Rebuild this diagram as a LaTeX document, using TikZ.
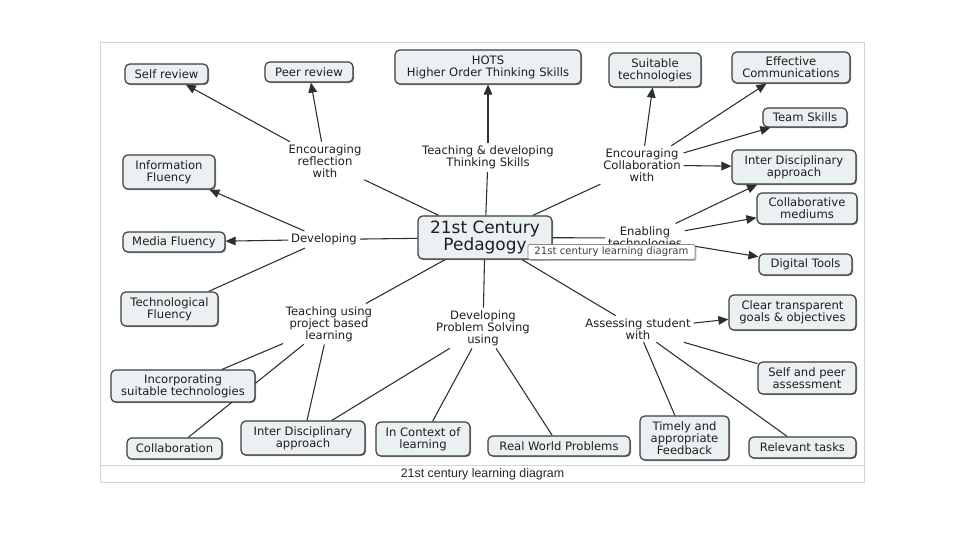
\documentclass[tikz,border=0pt]{standalone}
\usepackage{fontspec}
\setmainfont{DejaVu Sans}
\newfontfamily\capfont{Liberation Sans}
\usetikzlibrary{arrows.meta,shadows,backgrounds}
\definecolor{boxfill}{HTML}{EBF0F2}
\definecolor{boxline}{HTML}{3C3C3C}
\definecolor{txt}{HTML}{1E1E1E}
\definecolor{framec}{HTML}{D4D4D4}
\definecolor{linkc}{HTML}{2E2E2E}
\begin{document}
\begin{tikzpicture}[x=0.75pt,y=-0.75pt,
  box/.style={draw=boxline, line width=0.9pt, rounded corners=3.5pt, fill=boxfill,
    align=center, inner sep=1pt, font=\fontsize{8.7}{8.9}\selectfont, text=txt,
    drop shadow={shadow xshift=0.8pt, shadow yshift=-0.8pt, opacity=0.45, fill=black}},
  bw/.style={minimum width=#1*0.75pt},
  bh/.style={minimum height=#1*0.75pt},
  lnk/.style={align=center, inner sep=2pt, font=\fontsize{8.7}{8.9}\selectfont, text=txt},
  con/.style={draw=linkc, line width=0.8pt},
  arr/.style={con, -{Triangle[length=7.5pt,width=6.5pt]}},
]
\useasboundingbox (0,0) rectangle (960,540);

% central concept
\node[box, bw=134, bh=43, font=\fontsize{12.7}{11.3}\selectfont] (ped) at (485,237.5) {21st Century\\Pedagogy};

% linking phrases
\node[lnk] (erw) at (325,161) {Encouraging\\reflection\\with};
\node[lnk] (tdts) at (488,157.5) {Teaching \& developing\\Thinking Skills};
\node[lnk] (ecw) at (642,165) {Encouraging\\Collaboration\\with};
\node[lnk] (dev) at (324,239.5) {Developing};
\node[lnk] (enab) at (645,238) {Enabling\\technologies};
\node[lnk] (tupbl) at (329,324) {Teaching using\\project based\\learning};
\node[lnk] (dpsu) at (483,328) {Developing\\Problem Solving\\using};
\node[lnk] (asw) at (638,329) {Assessing student\\with};

% concept boxes
\node[box, bw=83, bh=20] (srev) at (166.5,74) {Self review};
\node[box, bw=88, bh=20] (prev) at (309,72) {Peer review};
\node[box, bw=186, bh=34] (hots) at (488,67) {HOTS\\Higher Order Thinking Skills};
\node[box, bw=92, bh=34] (suit) at (655,70) {Suitable\\technologies};
\node[box, bw=118, bh=31] (effc) at (791,67.5) {Effective\\Communications};
\node[box, bw=84, bh=19] (team) at (805,117.5) {Team Skills};
\node[box, bw=124, bh=34] (idr) at (794,167) {Inter Disciplinary\\approach};
\node[box, bw=100, bh=31] (colm) at (807,208.5) {Collaborative\\mediums};
\node[box, bw=93, bh=21] (digt) at (805.5,264.5) {Digital Tools};
\node[box, bw=127, bh=35] (clear) at (792.5,312.5) {Clear transparent\\goals \& objectives};
\node[box, bw=98, bh=32] (sap) at (807,378) {Self and peer\\assessment};
\node[box, bw=107, bh=21] (rel) at (802.5,447.5) {Relevant tasks};
\node[box, bw=89, bh=44] (timely) at (684.5,438) {Timely and\\appropriate\\Feedback};
\node[box, bw=142, bh=20] (rwp) at (559,446) {Real World Problems};
\node[box, bw=94, bh=34] (inctx) at (423,439) {In Context of\\learning};
\node[box, bw=124, bh=34] (idb) at (303,438) {Inter Disciplinary\\approach};
\node[box, bw=95, bh=21] (collab) at (174.5,448.5) {Collaboration};
\node[box, bw=144, bh=32] (incorp) at (183,386) {Incorporating\\suitable technologies};
\node[box, bw=97, bh=34] (techf) at (169.5,309) {Technological\\Fluency};
\node[box, bw=102, bh=20] (media) at (174,242) {Media Fluency};
\node[box, bw=92, bh=34] (info) at (169,172) {Information\\Fluency};

% tooltip and caption
\node[draw=black!45, fill=white, line width=0.6pt, rounded corners=1pt, inner sep=1pt,
  minimum width=167*0.75pt, minimum height=15*0.75pt, font=\fontsize{7.6}{8}\selectfont,
  text=black!75, drop shadow={shadow xshift=1pt, shadow yshift=-1pt, opacity=0.3, fill=black}]
  (tip) at (611.5,252) {21st century learning diagram};
\node[font=\capfont\fontsize{9.3}{10}\selectfont, text=black!85] (cap) at (482.5,474) {21st century learning diagram};

\begin{scope}[on background layer]
  \fill[white] (0,0) rectangle (960,540);
  \draw[framec, line width=0.75pt] (100.5,42.5) rectangle (864,482);
  \draw[framec, line width=0.75pt] (100.5,465) -- (864,465);
  % from the central concept
  \draw[con] (ped) -- (erw);
  \draw[con] (ped) -- (tdts);
  \draw[con] (ped) -- (ecw);
  \draw[con] (ped) -- (dev);
  \draw[con] (ped) -- (enab);
  \draw[con] (ped) -- (tupbl);
  \draw[con] (ped) -- (dpsu);
  \draw[con] (ped) -- (asw);
  % reflection
  \draw[arr] (erw) -- (srev);
  \draw[arr] (erw) -- (prev);
  % thinking skills
  \draw[arr] (tdts) -- (hots);
  % collaboration
  \draw[arr] (ecw) -- (suit);
  \draw[arr] (ecw) -- (effc);
  \draw[arr] (ecw) -- (team);
  \draw[arr] (ecw) -- (idr);
  % enabling technologies
  \draw[arr] (enab) -- (idr);
  \draw[arr] (enab) -- (colm);
  \draw[arr] (enab) -- (digt);
  % developing
  \draw[arr] (dev) -- (info);
  \draw[arr] (dev) -- (media);
  \draw[con] (dev) -- (techf);
  % project based learning
  \draw[con] (tupbl) -- (incorp);
  \draw[con] (tupbl) -- (collab);
  \draw[con] (tupbl) -- (idb);
  % problem solving
  \draw[con] (dpsu) -- (idb);
  \draw[con] (dpsu) -- (inctx);
  \draw[con] (dpsu) -- (rwp);
  % assessing
  \draw[arr] (asw) -- (clear);
  \draw[con] (asw) -- (sap);
  \draw[con] (asw) -- (rel);
  \draw[con] (asw) -- (timely);
\end{scope}
\end{tikzpicture}
\end{document}
